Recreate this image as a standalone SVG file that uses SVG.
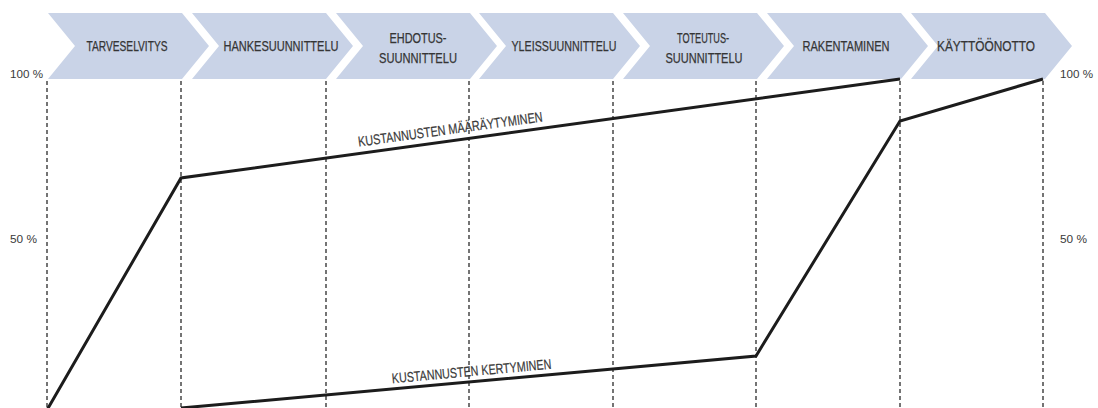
<svg xmlns="http://www.w3.org/2000/svg" width="1098" height="408" viewBox="0 0 1098 408">
<style>
.chev{fill:#c9d3e7;}
.lbl{font-family:"Liberation Sans",Arial,sans-serif;font-size:14px;fill:#353535;stroke:#353535;stroke-width:0.25;text-anchor:middle;}
.pct{font-family:"Liberation Sans",Arial,sans-serif;font-size:11px;fill:#3a3a3a;}
.grid{stroke:#3a3a3a;stroke-width:1.4;stroke-dasharray:4 3;fill:none;}
.curve{stroke:#1c1c1c;stroke-width:3;fill:none;stroke-linejoin:miter;}
.clbl{font-family:"Liberation Sans",Arial,sans-serif;font-size:14px;fill:#3a3a3a;stroke:#3a3a3a;stroke-width:0.2;text-anchor:middle;}
</style>
<rect width="1098" height="408" fill="#ffffff"/>
<g id="phase-tarveselvitys">
<polygon class="chev" points="48,13 182,13 209,46 182,79 48,79 75,46"/>
<text class="lbl" x="127" y="51" textLength="81" lengthAdjust="spacingAndGlyphs">TARVESELVITYS</text>
</g>
<g id="phase-hankesuunnittelu">
<polygon class="chev" points="192,13 326,13 353,46 326,79 192,79 219,46"/>
<text class="lbl" x="281" y="51" textLength="115" lengthAdjust="spacingAndGlyphs">HANKESUUNNITTELU</text>
</g>
<g id="phase-ehdotussuunnittelu">
<polygon class="chev" points="336,13 470,13 497,46 470,79 336,79 363,46"/>
<text class="lbl" x="418" y="43" textLength="57" lengthAdjust="spacingAndGlyphs">EHDOTUS-</text>
<text class="lbl" x="418" y="63" textLength="78" lengthAdjust="spacingAndGlyphs">SUUNNITTELU</text>
</g>
<g id="phase-yleissuunnittelu">
<polygon class="chev" points="479,13 613,13 640,46 613,79 479,79 506,46"/>
<text class="lbl" x="564" y="51" textLength="105" lengthAdjust="spacingAndGlyphs">YLEISSUUNNITTELU</text>
</g>
<g id="phase-toteutussuunnittelu">
<polygon class="chev" points="623,13 757,13 784,46 757,79 623,79 650,46"/>
<text class="lbl" x="703" y="43" textLength="52" lengthAdjust="spacingAndGlyphs">TOTEUTUS-</text>
<text class="lbl" x="704" y="63" textLength="77" lengthAdjust="spacingAndGlyphs">SUUNNITTELU</text>
</g>
<g id="phase-rakentaminen">
<polygon class="chev" points="767,13 901,13 928,46 901,79 767,79 794,46"/>
<text class="lbl" x="846" y="51" textLength="87" lengthAdjust="spacingAndGlyphs">RAKENTAMINEN</text>
</g>
<g id="phase-kayttoonotto">
<polygon class="chev" points="911,13 1045,13 1072,46 1045,79 911,79 938,46"/>
<text class="lbl" x="986" y="51" textLength="98" lengthAdjust="spacingAndGlyphs">KÄYTTÖÖNOTTO</text>
</g>
<g id="axis-labels">
<text class="pct" x="10" y="78" textLength="33" lengthAdjust="spacingAndGlyphs">100 %</text>
<text class="pct" x="10" y="243" textLength="27" lengthAdjust="spacingAndGlyphs">50 %</text>
<text class="pct" x="1060" y="78" textLength="33" lengthAdjust="spacingAndGlyphs">100 %</text>
<text class="pct" x="1060" y="243" textLength="27" lengthAdjust="spacingAndGlyphs">50 %</text>
</g>
<g id="gridlines">
<line class="grid" x1="47" y1="81" x2="47" y2="408"/>
<line class="grid" x1="181" y1="81" x2="181" y2="408"/>
<line class="grid" x1="326" y1="81" x2="326" y2="408"/>
<line class="grid" x1="469" y1="81" x2="469" y2="408"/>
<line class="grid" x1="613" y1="81" x2="613" y2="408"/>
<line class="grid" x1="756" y1="81" x2="756" y2="408"/>
<line class="grid" x1="900" y1="81" x2="900" y2="408"/>
<line class="grid" x1="1043" y1="81" x2="1043" y2="408"/>
</g>
<g id="connectors">
<polyline id="curve-maaraytyminen" class="curve" points="47,410 181,178 900,79"/>
<polyline id="curve-kertyminen" class="curve" points="181,408 756,356 900,121 1043,79"/>
</g>
<g id="curve-labels">
<text class="clbl" transform="translate(451,134) rotate(-7.8)" x="0" y="0" textLength="186" lengthAdjust="spacingAndGlyphs">KUSTANNUSTEN MÄÄRÄYTYMINEN</text>
<text class="clbl" transform="translate(472,376) rotate(-5.2)" x="0" y="0" textLength="160" lengthAdjust="spacingAndGlyphs">KUSTANNUSTEN KERTYMINEN</text>
</g>
</svg>
